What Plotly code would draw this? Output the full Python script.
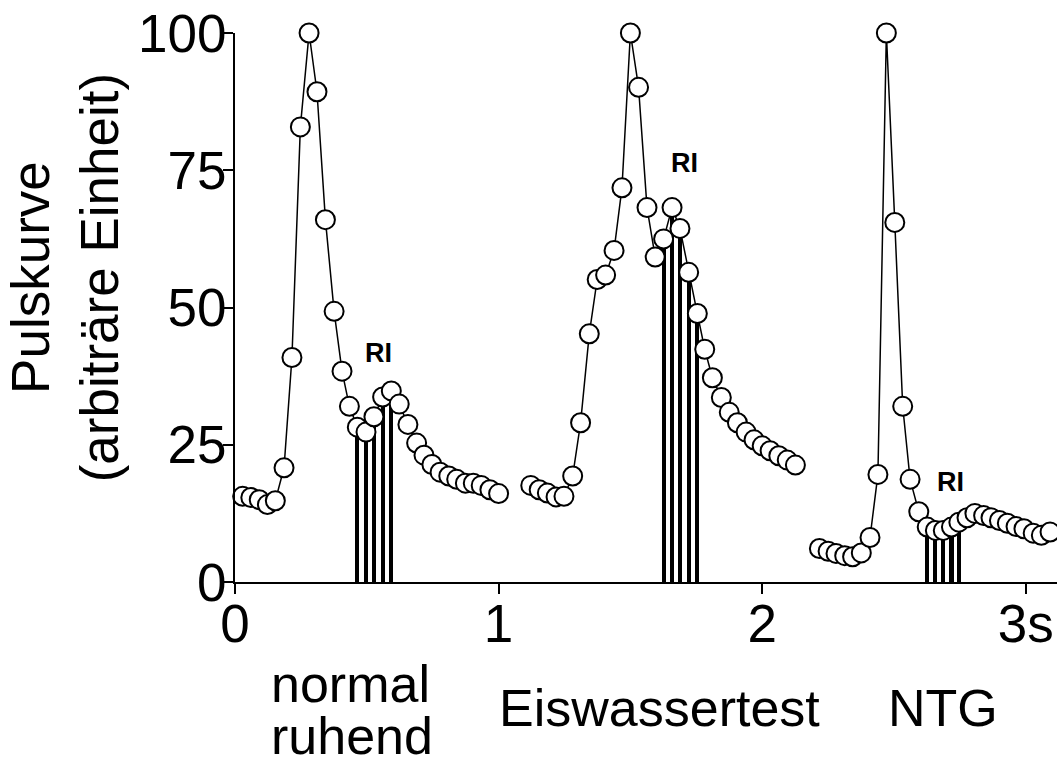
import plotly.graph_objects as go

# ---- data (time in s, pulse amplitude in arbitrary units) ----
normal_t = [0.029, 0.060, 0.092, 0.123, 0.153, 0.186, 0.216, 0.248, 0.281, 0.311,
            0.343, 0.376, 0.406, 0.434, 0.464, 0.497, 0.527, 0.560, 0.593, 0.623,
            0.656, 0.689, 0.717, 0.747, 0.778, 0.811, 0.841, 0.874, 0.904, 0.934,
            0.967, 1.000]
normal_v = [15.6, 15.4, 15.0, 14.1, 14.8, 20.8, 40.9, 82.9, 100.0, 89.3,
            66.0, 49.3, 38.4, 32.0, 28.2, 27.3, 30.1, 33.7, 34.8, 32.4,
            28.7, 25.3, 23.1, 21.4, 20.0, 19.3, 18.7, 18.0, 18.0, 17.6,
            16.8, 16.1]

eis_t = [1.122, 1.154, 1.185, 1.218, 1.248, 1.281, 1.311, 1.344, 1.374, 1.406,
         1.438, 1.468, 1.500, 1.531, 1.563, 1.594, 1.626, 1.658, 1.688, 1.721,
         1.754, 1.782, 1.811, 1.845, 1.875, 1.906, 1.939, 1.969, 2.000, 2.030,
         2.063, 2.095, 2.126]
eis_v = [17.6, 16.8, 16.2, 15.5, 15.6, 19.3, 29.0, 45.2, 55.1, 55.9,
         60.4, 71.8, 100.0, 90.1, 68.2, 59.2, 62.5, 68.2, 64.4, 56.4,
         48.9, 42.4, 37.2, 33.6, 30.9, 29.0, 27.3, 25.9, 24.8, 23.9,
         23.0, 22.2, 21.3]

ntg_t = [2.217, 2.250, 2.280, 2.313, 2.343, 2.376, 2.409, 2.439, 2.471, 2.503,
         2.533, 2.561, 2.594, 2.626, 2.657, 2.687, 2.718, 2.746, 2.777, 2.807,
         2.840, 2.868, 2.900, 2.930, 2.963, 2.993, 3.028, 3.059, 3.092]
ntg_v = [6.1, 5.6, 5.2, 4.8, 4.6, 5.3, 8.1, 19.6, 100.0, 65.5,
         32.0, 18.7, 12.8, 10.0, 9.4, 9.4, 10.0, 10.9, 11.7, 12.5,
         12.1, 11.7, 11.2, 10.7, 10.1, 9.7, 8.9, 8.5, 9.1]

# reflection-index (RI) samples shown as bars
ri_normal_t = [0.464, 0.497, 0.527, 0.560, 0.593]
ri_normal_v = [28.2, 27.3, 30.1, 33.7, 34.8]
ri_eis_t = [1.626, 1.658, 1.688, 1.721, 1.754]
ri_eis_v = [62.5, 68.2, 64.4, 56.4, 48.9]
ri_ntg_t = [2.626, 2.657, 2.687, 2.718, 2.746]
ri_ntg_v = [10.0, 9.4, 9.4, 10.0, 10.9]

ri_label_pos = [(0.546, 41.8), (1.705, 76.4), (2.716, 18.3)]

x_tickvals = [0, 1, 2, 3]
x_ticktext = ["0", "1", "2", "3s"]
y_tickvals = [0, 25, 50, 75, 100]

condition_labels = ["normal", "ruhend", "Eiswassertest", "NTG"]

FONT = "Liberation Sans, Arial, sans-serif"

W, H = 1057, 764
PLOT_TOP = 32.7
PLOT_BOTTOM = 581.7
PLOT_LEFT = 235
PLOT_H = PLOT_BOTTOM - PLOT_TOP
PLOT_W = W - PLOT_LEFT


def py(page_y):
    return (PLOT_BOTTOM - page_y) / PLOT_H


def px(page_x):
    return (page_x - PLOT_LEFT) / PLOT_W


fig = go.Figure()

for bt, bv in [(ri_normal_t, ri_normal_v), (ri_eis_t, ri_eis_v), (ri_ntg_t, ri_ntg_v)]:
    fig.add_trace(go.Bar(x=bt, y=bv, width=0.016, marker=dict(color="black", line=dict(width=0)),
                         showlegend=False))

for st, sv in [(normal_t, normal_v), (eis_t, eis_v), (ntg_t, ntg_v)]:
    fig.add_trace(go.Scatter(x=st, y=sv, mode="lines+markers",
                             line=dict(color="black", width=1.5),
                             marker=dict(symbol="circle", size=19, color="white",
                                         line=dict(color="black", width=2)),
                             cliponaxis=False, showlegend=False))

annotations = []
for (ax, ay) in ri_label_pos:
    annotations.append(dict(x=ax, y=ay, xref="x", yref="y", text="<b>RI</b>", showarrow=False,
                            font=dict(family=FONT, size=27, color="black"),
                            xanchor="center", yanchor="middle"))

cat_font = dict(family=FONT, size=52, color="black")
annotations.append(dict(x=0.44, y=py(684), xref="x", yref="paper", text=condition_labels[0],
                        showarrow=False, font=cat_font, xanchor="center", yanchor="middle"))
annotations.append(dict(x=0.445, y=py(736), xref="x", yref="paper", text=condition_labels[1],
                        showarrow=False, font=cat_font, xanchor="center", yanchor="middle"))
annotations.append(dict(x=1.612, y=py(708), xref="x", yref="paper", text=condition_labels[2],
                        showarrow=False, font=cat_font, xanchor="center", yanchor="middle"))
annotations.append(dict(x=2.685, y=py(708), xref="x", yref="paper", text=condition_labels[3],
                        showarrow=False, font=cat_font, xanchor="center", yanchor="middle"))

annotations.append(dict(x=px(65), y=py(278), xref="paper", yref="paper",
                        text="Pulskurve<br>(arbiträre Einheit)", textangle=-90, showarrow=False,
                        font=dict(family=FONT, size=53, color="black"),
                        xanchor="center", yanchor="middle"))

fig.update_layout(
    width=W, height=H,
    margin=dict(l=PLOT_LEFT, r=0, t=PLOT_TOP, b=H - PLOT_BOTTOM, pad=0),
    paper_bgcolor="white", plot_bgcolor="white",
    font=dict(family=FONT, color="black"),
    bargap=0,
    annotations=annotations,
    xaxis=dict(range=[0, PLOT_W / 263.6], showgrid=False, zeroline=False, showline=True,
               linecolor="black", linewidth=2, ticks="outside", ticklen=10, tickwidth=2,
               tickcolor="black", tickvals=x_tickvals, ticktext=x_ticktext,
               ticklabelstandoff=-16, ticklabeloverflow="allow",
               tickfont=dict(family=FONT, size=53, color="black")),
    yaxis=dict(range=[0, 100], showgrid=False, zeroline=False, showline=True,
               linecolor="black", linewidth=2, ticks="outside", ticklen=10, tickwidth=2,
               tickcolor="black", tickvals=y_tickvals, ticklabelstandoff=-14,
               ticklabeloverflow="allow",
               tickfont=dict(family=FONT, size=53, color="black")),
)

fig.write_html(
    "out.html",
    config={"displayModeBar": False},
    post_script="document.body.style.margin='0';document.body.style.overflow='hidden';",
)
